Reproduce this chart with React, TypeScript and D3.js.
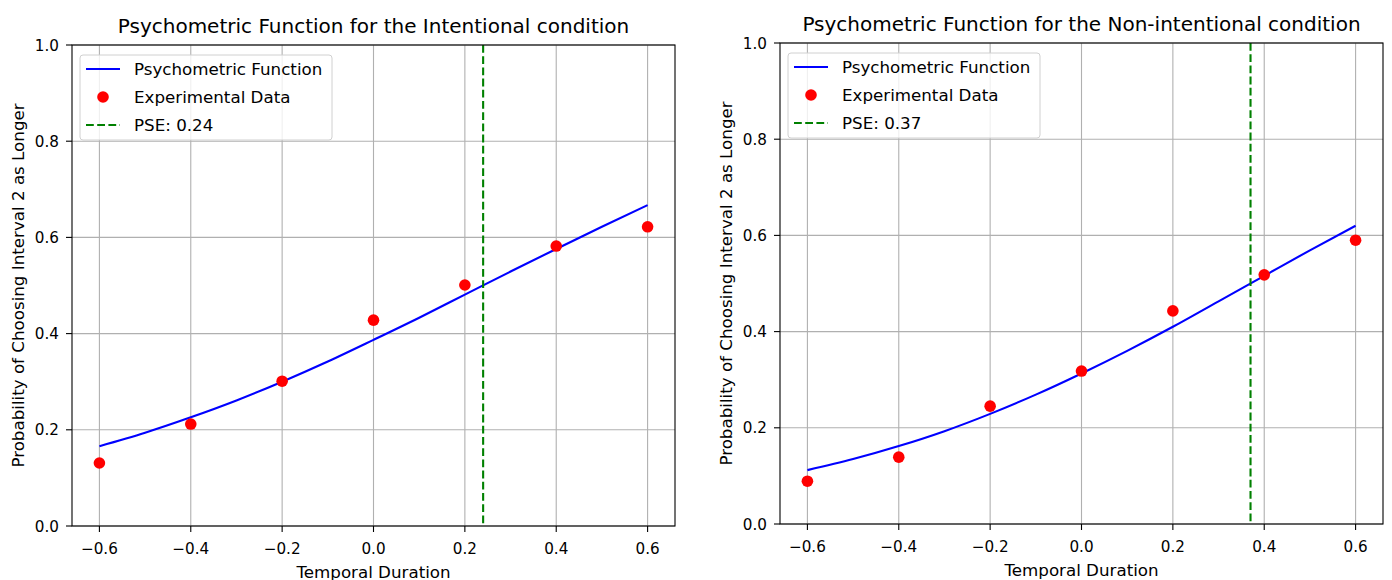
import React from "react";
import * as d3 from "d3";

const xTicks = [-0.6, -0.4, -0.2, 0.0, 0.2, 0.4, 0.6];
const yTicks = [0.0, 0.2, 0.4, 0.6, 0.8, 1.0];
const dataX = [-0.6, -0.4, -0.2, 0.0, 0.2, 0.4, 0.6];
const intentionalData = [0.131, 0.212, 0.301, 0.428, 0.501, 0.582, 0.622];
const nonIntentionalData = [0.089, 0.139, 0.245, 0.318, 0.443, 0.518, 0.59];
const curveX = [-0.6, -0.5, -0.4, -0.3, -0.2, -0.1, 0.0, 0.1, 0.2, 0.3, 0.4, 0.5, 0.6];
const intentionalCurve = [0.166, 0.194, 0.226, 0.261, 0.3, 0.342, 0.387, 0.433, 0.481, 0.529, 0.576, 0.622, 0.667];
const nonIntentionalCurve = [0.112, 0.135, 0.162, 0.193, 0.229, 0.269, 0.313, 0.36, 0.41, 0.463, 0.516, 0.569, 0.62];
const intentionalPSE = 0.24;
const nonIntentionalPSE = 0.37;

const FONT = "DejaVu Sans, sans-serif";
const TICK_FS = 15.2;
const LABEL_FS = 16.7;
const TITLE_FS = 20;

type PanelProps = {
  left: number;
  top: number;
  width: number;
  height: number;
  title: string;
  points: number[];
  curve: number[];
  pse: number;
};

function Panel({ left, top, width, height, title, points, curve, pse }: PanelProps) {
  const x = d3.scaleLinear().domain([-0.66, 0.66]).range([left, left + width]);
  const y = d3.scaleLinear().domain([0, 1]).range([top + height, top]);
  const line = d3
    .line<number>()
    .x((_, i) => x(curveX[i]))
    .y((d) => y(d))
    .curve(d3.curveMonotoneX);
  const fmt = d3.format(".1f");
  const fmtX = (v: number) => fmt(v).replace("-", "\u2212");
  return (
    <g>
      {xTicks.map((t) => (
        <line key={"gx" + t} x1={x(t)} x2={x(t)} y1={top} y2={top + height} stroke="#b0b0b0" strokeWidth={1.1} />
      ))}
      {yTicks.map((t) => (
        <line key={"gy" + t} x1={left} x2={left + width} y1={y(t)} y2={y(t)} stroke="#b0b0b0" strokeWidth={1.1} />
      ))}
      <path d={line(curve) || ""} fill="none" stroke="#0000ff" strokeWidth={2.1} />
      {points.map((p, i) => (
        <circle key={"p" + i} cx={x(dataX[i])} cy={y(p)} r={5.8} fill="#ff0000" />
      ))}
      <line x1={x(pse)} x2={x(pse)} y1={top} y2={top + height} stroke="#008000" strokeWidth={2.1} strokeDasharray="7.8,3.4" />
      <rect x={left} y={top} width={width} height={height} fill="none" stroke="#000" strokeWidth={1.1} />
      {xTicks.map((t) => (
        <g key={"tx" + t}>
          <line x1={x(t)} x2={x(t)} y1={top + height} y2={top + height + 6} stroke="#000" strokeWidth={1.1} />
          <text x={x(t)} y={top + height + 28} textAnchor="middle" fontFamily={FONT} fontSize={TICK_FS} fill="#000">
            {fmtX(t)}
          </text>
        </g>
      ))}
      {yTicks.map((t) => (
        <g key={"ty" + t}>
          <line x1={left - 6} x2={left} y1={y(t)} y2={y(t)} stroke="#000" strokeWidth={1.1} />
          <text x={left - 13} y={y(t) + 5.5} textAnchor="end" fontFamily={FONT} fontSize={TICK_FS} fill="#000">
            {fmt(t)}
          </text>
        </g>
      ))}
      <text x={left + width / 2} y={top - 12} textAnchor="middle" fontFamily={FONT} fontSize={TITLE_FS} fill="#000">
        {title}
      </text>
      <text x={left + width / 2} y={top + height + 52} textAnchor="middle" fontFamily={FONT} fontSize={LABEL_FS} fill="#000">
        Temporal Duration
      </text>
      <text
        transform={`translate(${left - 48},${top + height / 2}) rotate(-90)`}
        textAnchor="middle"
        fontFamily={FONT}
        fontSize={LABEL_FS}
        fill="#000"
      >
        Probability of Choosing Interval 2 as Longer
      </text>
      <g transform={`translate(${left + 8},${top + 10})`}>
        <rect x={0} y={0} width={252} height={85} rx={3} fill="#fff" fillOpacity={0.8} stroke="#d0d0d0" strokeWidth={1} />
        <line x1={6} x2={40} y1={14} y2={14} stroke="#0000ff" strokeWidth={2.1} />
        <text x={54} y={20} fontFamily={FONT} fontSize={LABEL_FS} fill="#000">Psychometric Function</text>
        <circle cx={23} cy={42} r={5.8} fill="#ff0000" />
        <text x={54} y={48} fontFamily={FONT} fontSize={LABEL_FS} fill="#000">Experimental Data</text>
        <line x1={6} x2={40} y1={70} y2={70} stroke="#008000" strokeWidth={2.1} strokeDasharray="7.8,3.4" />
        <text x={54} y={76} fontFamily={FONT} fontSize={LABEL_FS} fill="#000">{`PSE: ${pse.toFixed(2)}`}</text>
      </g>
    </g>
  );
}

export default function App() {
  return (
    <svg width={1392} height={580} style={{ position: "absolute", left: 0, top: 0, background: "#fff" }}>
      <rect x={0} y={0} width={1392} height={580} fill="#fff" />
      <Panel
        left={72}
        top={45}
        width={603}
        height={481}
        title="Psychometric Function for the Intentional condition"
        points={intentionalData}
        curve={intentionalCurve}
        pse={intentionalPSE}
      />
      <Panel
        left={780}
        top={43}
        width={603}
        height={481}
        title="Psychometric Function for the Non-intentional condition"
        points={nonIntentionalData}
        curve={nonIntentionalCurve}
        pse={nonIntentionalPSE}
      />
    </svg>
  );
}
